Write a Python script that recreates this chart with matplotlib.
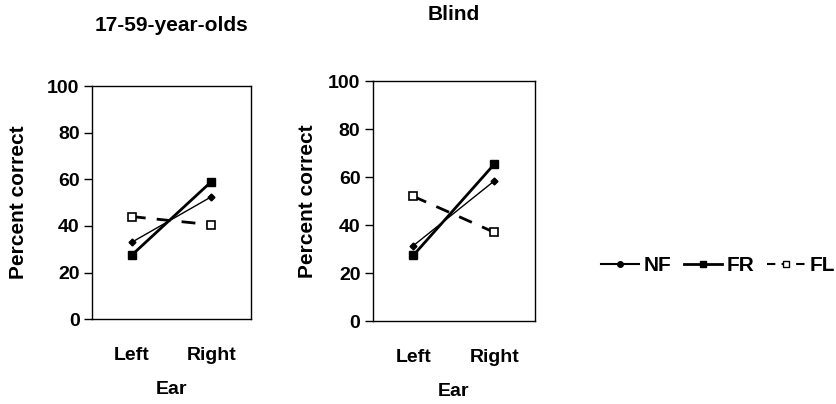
import matplotlib
matplotlib.use("Agg")
import matplotlib.pyplot as plt
from matplotlib.lines import Line2D

plt.rcParams['font.family'] = ['Liberation Sans', 'DejaVu Sans']
plt.rcParams['font.weight'] = 'bold'

ears = ["Left", "Right"]
titles = ["17-59-year-olds", "Blind"]
nf = [[33, 52.5], [31.5, 58.5]]
fr = [[27.5, 59], [27.5, 65.5]]
fl = [[44, 40.5], [52, 37]]

FONTSIZE = 14

fig = plt.figure(figsize=(8.37, 4.04), dpi=100)
positions = [[0.110, 0.210, 0.190, 0.577], [0.4456, 0.205, 0.1935, 0.594]]
title_y = [0.938, 0.963]
ylabel_pad = [14, 8]

for i in range(2):
    ax = fig.add_axes(positions[i])
    x = [0, 1]
    ax.plot(x, nf[i], color="black", linewidth=1.0, marker="D", markersize=3.5)
    ax.plot(x, fr[i], color="black", linewidth=2.0, marker="s", markersize=5.5)
    ax.plot(x, fl[i], color="black", linewidth=2.0, linestyle=(0, (5, 4)), marker="s",
            markersize=5.5, markerfacecolor="white", markeredgewidth=1.2)
    ax.set_xlim(-0.5, 1.5)
    ax.set_ylim(0, 100)
    ax.set_yticks([0, 20, 40, 60, 80, 100])
    ax.set_xticks(x)
    ax.set_xticklabels(ears, fontsize=FONTSIZE, fontweight="bold")
    ax.tick_params(axis="x", length=0, pad=20)
    ax.tick_params(axis="y", length=6, width=1, direction="out", labelsize=FONTSIZE, pad=3)
    for lab in ax.get_yticklabels():
        lab.set_fontweight("bold")
    ax.set_xlabel("Ear", fontsize=FONTSIZE, fontweight="bold", labelpad=12)
    ax.set_ylabel("Percent correct", fontsize=FONTSIZE + 1, fontweight="bold", labelpad=ylabel_pad[i])
    for s in ax.spines.values():
        s.set_linewidth(1.0)
    cx = positions[i][0] + positions[i][2] / 2
    fig.text(cx, title_y[i], titles[i], ha="center", va="center", fontsize=FONTSIZE + 1, fontweight="bold")

# legend handles drawn smaller than the plotted markers
handles = [
    Line2D([], [], color="black", linewidth=1.5, marker="o", markersize=4, label="NF"),
    Line2D([], [], color="black", linewidth=2.0, marker="s", markersize=5, label="FR"),
    Line2D([], [], color="black", linewidth=1.5, linestyle=(0, (4, 3)), marker="s", markersize=5,
           markerfacecolor="white", label="FL"),
]
fig.legend(handles=handles, loc="center right", bbox_to_anchor=(0.998, 0.342), ncol=3,
           frameon=False, fontsize=FONTSIZE + 1, handlelength=1.8, handletextpad=0.25,
           columnspacing=0.6, borderpad=0, borderaxespad=0)

plt.savefig("out.png", dpi=100)
